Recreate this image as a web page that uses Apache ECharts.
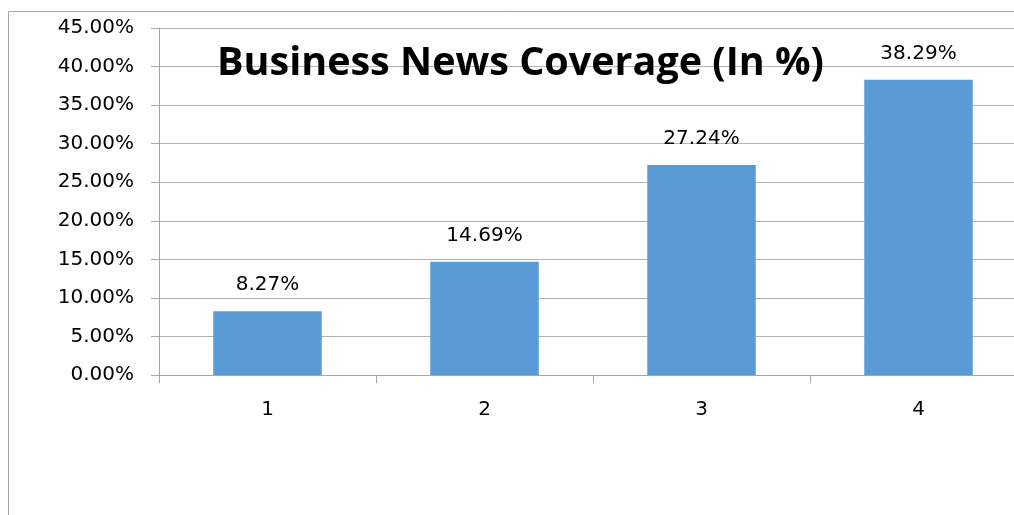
<!DOCTYPE html>
<html><head><meta charset="utf-8">
<script src="https://cdn.jsdelivr.net/npm/echarts@6/dist/echarts.min.js"></script>
<style>html,body{margin:0;padding:0;background:#fff}#c{width:1014px;height:515px}</style>
</head><body><div id="c"></div>
<script>
const categories = ['1', '2', '3', '4'];
const coverage = [8.27, 14.69, 27.24, 38.29];
const yTicks = { min: 0, max: 45, interval: 5 };
const titleText = 'Business News Coverage (In %)';

const chart = echarts.init(document.getElementById('c'), null, { renderer: 'canvas' });
const lbl = { fontFamily: 'DejaVu Sans', fontSize: 20, color: '#000' };
chart.setOption({
  animation: false,
  backgroundColor: '#fff',
  graphic: [{
    type: 'rect', shape: { x: 8.5, y: 11.5, width: 1100, height: 600 },
    style: { fill: 'none', stroke: '#a6a6a6', lineWidth: 1 }, z: -1
  }],
  title: {
    text: titleText, left: 212, top: 39,
    textStyle: { fontFamily: 'Open Sans', fontWeight: 'bold', fontSize: 39.5, color: '#000' }
  },
  grid: { left: 159, top: 28, width: 868, height: 347, containLabel: false, outerBoundsMode: 'none' },
  xAxis: {
    type: 'category', data: categories,
    axisLine: { lineStyle: { color: '#a6a6a6', width: 1 } },
    axisTick: { show: true, length: 8, lineStyle: { color: '#a6a6a6' } },
    axisLabel: Object.assign({ margin: 25 }, lbl)
  },
  yAxis: {
    type: 'value', min: yTicks.min, max: yTicks.max, interval: yTicks.interval,
    axisLine: { show: true, lineStyle: { color: '#a6a6a6', width: 1 } },
    axisTick: { show: true, length: 8, lineStyle: { color: '#a6a6a6' } },
    splitLine: { lineStyle: { color: '#b3b3b3', width: 1 } },
    axisLabel: Object.assign({ margin: 25, formatter: v => v.toFixed(2) + '%' }, lbl)
  },
  series: [{
    type: 'bar', data: coverage, barWidth: '50%',
    itemStyle: { color: '#5b9bd5' },
    label: Object.assign({ show: true, position: 'top', distance: 16, formatter: p => p.value.toFixed(2) + '%' }, lbl)
  }]
});
</script></body></html>
